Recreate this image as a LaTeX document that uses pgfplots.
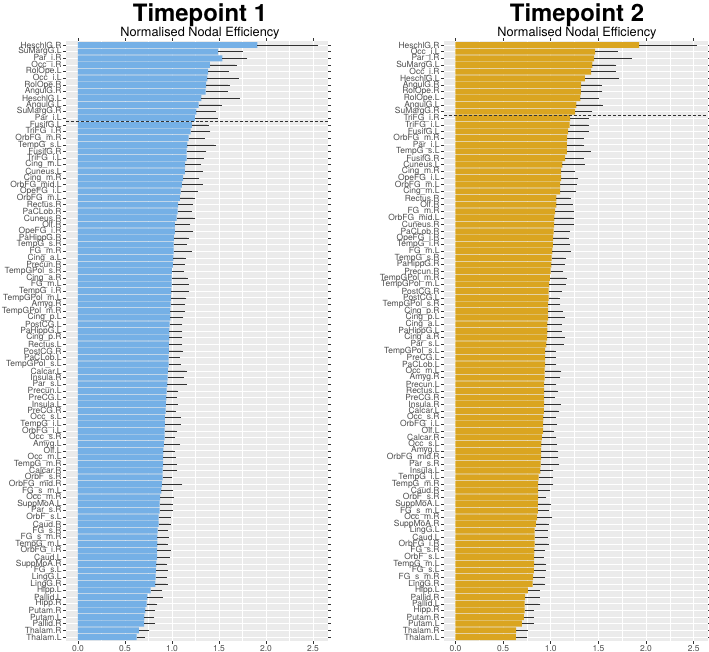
\documentclass[border=0pt]{standalone}
\usepackage{pgfplots}
\usepackage{pgfplotstable}
\pgfplotsset{compat=1.18}
\usepackage{fontspec}
\setmainfont{TeX Gyre Heros}
\definecolor{panelbg}{HTML}{EBEBEB}
\definecolor{ticktext}{HTML}{4D4D4D}
\definecolor{tickc}{HTML}{333333}
\definecolor{barblue}{RGB}{117,176,230}
\definecolor{bargold}{HTML}{DAA520}
\definecolor{errc}{HTML}{303030}

\pgfplotstableread{
idx name val err
1 HeschlG.R 1.908 0.626
2 SuMargG.L 1.491 0.240
3 Par\_i.R 1.537 0.244
4 Occ\_i.R 1.403 0.268
5 RolOpe.L 1.385 0.202
6 Occ\_i.L 1.378 0.311
7 RolOpe.R 1.364 0.230
8 AngulG.R 1.357 0.219
9 HeschlG.L 1.314 0.389
10 AngulG.L 1.283 0.226
11 SuMargG.R 1.261 0.184
12 Par\_i.L 1.247 0.219
13 FusifG.L 1.212 0.159
14 TriFG\_i.R 1.198 0.191
15 OrbFG\_m.R 1.177 0.152
16 TempG\_s.L 1.163 0.282
17 FusifG.R 1.155 0.191
18 TriFG\_i.L 1.155 0.163
19 Cing\_m.L 1.141 0.149
20 Cuneus.L 1.138 0.169
21 Cing\_m.R 1.120 0.152
22 OrbFG\_mid.L 1.106 0.201
23 OpeFG\_i.L 1.092 0.162
24 OrbFG\_m.L 1.085 0.138
25 Rectus.R 1.067 0.138
26 PaCLob.R 1.060 0.131
27 Cuneus.R 1.049 0.174
28 Olf.R 1.032 0.141
29 OpeFG\_i.R 1.032 0.176
30 PaHippG.R 1.021 0.138
31 TempG\_s.R 1.018 0.120
32 FG\_m.R 1.018 0.173
33 Cing\_a.L 1.014 0.110
34 Precun.R 1.011 0.106
35 TempGPol\_s.R 1.000 0.110
36 Cing\_a.R 0.996 0.152
37 FG\_m.L 0.996 0.167
38 TempG\_i.R 0.993 0.170
39 TempGPol\_m.L 0.989 0.145
40 Amyg.R 0.986 0.134
41 TempGPol\_m.R 0.982 0.138
42 Cing\_p.L 0.982 0.120
43 PostCG.L 0.975 0.117
44 PaHippG.L 0.972 0.120
45 Cing\_p.R 0.972 0.120
46 Rectus.L 0.968 0.124
47 PostCG.R 0.968 0.131
48 PaCLob.L 0.965 0.099
49 TempGPol\_s.L 0.965 0.106
50 Calcar.L 0.958 0.183
51 Insula.R 0.954 0.152
52 Par\_s.L 0.951 0.187
53 Precun.L 0.943 0.106
54 PreCG.L 0.940 0.092
55 Insula.L 0.936 0.106
56 PreCG.R 0.933 0.092
57 Occ\_s.L 0.926 0.145
58 TempG\_i.L 0.926 0.148
59 OrbFG\_i.L 0.922 0.113
60 Occ\_s.R 0.922 0.092
61 Amyg.L 0.915 0.152
62 Olf.L 0.908 0.099
63 Occ\_m.L 0.905 0.116
64 TempG\_m.R 0.905 0.127
65 Calcar.R 0.901 0.134
66 OrbF\_s.R 0.901 0.078
67 OrbFG\_mid.R 0.894 0.198
68 FG\_s\_m.L 0.887 0.106
69 Occ\_m.R 0.873 0.131
70 SuppMoA.L 0.869 0.120
71 Par\_s.R 0.869 0.120
72 OrbF\_s.L 0.859 0.109
73 Caud.R 0.859 0.109
74 FG\_s.R 0.848 0.092
75 FG\_s\_m.R 0.845 0.102
76 TempG\_m.L 0.845 0.091
77 OrbFG\_i.R 0.841 0.124
78 Caud.L 0.841 0.113
79 SuppMoA.R 0.834 0.095
80 FG\_s.L 0.830 0.103
81 LingG.L 0.827 0.099
82 LingG.R 0.823 0.113
83 Hipp.L 0.774 0.102
84 Pallid.L 0.739 0.141
85 Hipp.R 0.731 0.092
86 Putam.R 0.717 0.082
87 Putam.L 0.707 0.085
88 Pallid.R 0.703 0.099
89 Thalam.R 0.647 0.092
90 Thalam.L 0.625 0.071
}\tabA

\pgfplotstableread{
idx name val err
1 HeschlG.R 1.927 0.583
2 Occ\_i.L 1.465 0.220
3 Par\_i.R 1.455 0.374
4 SuMargG.L 1.437 0.231
5 Occ\_i.R 1.423 0.238
6 HeschlG.L 1.357 0.342
7 AngulG.R 1.318 0.199
8 RolOpe.R 1.315 0.206
9 RolOpe.L 1.311 0.175
10 AngulG.L 1.269 0.259
11 SuMargG.R 1.255 0.161
12 TriFG\_i.R 1.203 0.175
13 TriFG\_i.L 1.199 0.186
14 FusifG.L 1.182 0.196
15 OrbFG\_m.R 1.171 0.154
16 Par\_i.L 1.168 0.161
17 TempG\_s.L 1.168 0.234
18 FusifG.R 1.150 0.175
19 Cuneus.L 1.122 0.214
20 Cing\_m.R 1.108 0.130
21 OpeFG\_i.L 1.108 0.161
22 OrbFG\_m.L 1.098 0.154
23 Cing\_m.L 1.098 0.147
24 Rectus.R 1.059 0.130
25 Olf.R 1.059 0.151
26 FG\_m.R 1.045 0.175
27 OrbFG\_mid.L 1.038 0.186
28 Cuneus.R 1.035 0.185
29 PaCLob.R 1.031 0.147
30 OpeFG\_i.R 1.024 0.144
31 TempG\_i.R 1.021 0.161
32 FG\_m.L 1.017 0.172
33 TempG\_s.R 1.010 0.126
34 PaHippG.R 1.007 0.119
35 Precun.R 1.000 0.112
36 TempGPol\_m.R 0.990 0.157
37 TempGPol\_m.L 0.983 0.157
38 PostCG.R 0.979 0.115
39 PostCG.L 0.979 0.098
40 TempGPol\_s.R 0.972 0.108
41 Cing\_p.R 0.972 0.133
42 Cing\_p.L 0.972 0.154
43 Cing\_a.L 0.965 0.129
44 PaHippG.L 0.965 0.129
45 Cing\_a.R 0.962 0.164
46 Par\_s.L 0.955 0.164
47 TempGPol\_s.L 0.941 0.094
48 PreCG.L 0.941 0.094
49 PaCLob.L 0.941 0.097
50 Occ\_m.L 0.937 0.154
51 Amyg.R 0.937 0.143
52 Precun.L 0.930 0.108
53 Rectus.L 0.930 0.129
54 PreCG.R 0.930 0.091
55 Insula.R 0.930 0.154
56 Calcar.L 0.927 0.143
57 Occ\_s.R 0.923 0.108
58 OrbFG\_i.L 0.920 0.125
59 Olf.L 0.920 0.097
60 Calcar.R 0.906 0.132
61 Occ\_s.L 0.902 0.140
62 Amyg.L 0.899 0.160
63 OrbFG\_mid.R 0.899 0.160
64 Par\_s.R 0.895 0.175
65 Insula.L 0.892 0.115
66 TempG\_i.L 0.874 0.133
67 TempG\_m.R 0.867 0.140
68 Caud.R 0.867 0.109
69 OrbF\_s.R 0.867 0.067
70 SuppMoA.L 0.864 0.122
71 FG\_s\_m.L 0.864 0.101
72 Occ\_m.R 0.857 0.140
73 SuppMoA.R 0.843 0.115
74 LingG.L 0.832 0.116
75 Caud.L 0.832 0.116
76 OrbFG\_i.R 0.832 0.130
77 FG\_s.R 0.829 0.087
78 OrbF\_s.L 0.825 0.081
79 TempG\_m.L 0.825 0.109
80 FG\_s.L 0.822 0.105
81 FG\_s\_m.R 0.815 0.108
82 LingG.R 0.811 0.112
83 Hipp.L 0.759 0.105
84 Pallid.R 0.731 0.133
85 Pallid.L 0.727 0.144
86 Hipp.R 0.727 0.077
87 Putam.R 0.717 0.084
88 Putam.L 0.696 0.105
89 Thalam.R 0.636 0.102
90 Thalam.L 0.633 0.094
}\tabB

\pgfplotsset{
  panel/.style={
    scale only axis, height=600bp,
    y dir=reverse,
    ymin=0.4, ymax=90.6,
    ytick={1,...,90},
    xtick={0,0.5,1,1.5,2,2.5},
    xticklabels={0.0,0.5,1.0,1.5,2.0,2.5},
    minor x tick num=1,
    xmajorgrids, xminorgrids, ymajorgrids,
    major grid style={white, line width=0.6bp},
    minor grid style={white, line width=0.3bp},
    axis background/.style={fill=panelbg},
    axis line style={draw=none},
    tick align=outside,
    major tick length=2.75bp, minor tick length=0pt,
    tick style={tickc, line width=0.5bp},
    /pgf/number format/assume math mode=true,
    ticklabel style={font=\fontsize{8.5}{8.5}\selectfont, text=ticktext},
    yticklabel style={inner sep=0.5bp, xshift=-1bp},
    xticklabel style={inner sep=1bp, yshift=-0.5bp},
    clip=false,
  },
  barplot/.style={
    xbar, bar width=0.9, draw=none, fill=#1,
    error bars/.cd, x dir=plus, x explicit,
    error bar style={line width=0.5bp, color=errc},
    error mark options={mark size=1.9bp, line width=0.5bp, color=errc},
  },
}

\begin{document}
\begin{tikzpicture}
\useasboundingbox (0,0) rectangle (709bp,-652bp);
\begin{axis}[panel, at={(66bp,-641bp)}, anchor=south west, width=262bp,
  xmin=-0.127, xmax=2.66,
  yticklabels from table={\tabA}{name}]
  \addplot[barplot=barblue] table[x=val, y=idx, x error=err] {\tabA};
  \addplot[densely dashed, color=tickc, line width=0.5bp] coordinates {(-0.127,12.5) (2.66,12.5)};
\end{axis}
\begin{axis}[panel, at={(444bp,-641bp)}, anchor=south west, width=264bp,
  xmin=-0.12, xmax=2.65,
  yticklabels from table={\tabB}{name}]
  \addplot[barplot=bargold] table[x=val, y=idx, x error=err] {\tabB};
  \addplot[densely dashed, color=tickc, line width=0.5bp] coordinates {(-0.12,11.5) (2.65,11.5)};
\end{axis}
\node[anchor=base, font=\fontsize{24}{24}\selectfont\bfseries] at (200bp,-21bp) {Timepoint 1};
\node[anchor=base, font=\fontsize{12.8}{12.8}\selectfont] at (200bp,-36bp) {Normalised Nodal Efficiency};
\node[anchor=base, font=\fontsize{24}{24}\selectfont\bfseries] at (577bp,-21bp) {Timepoint 2};
\node[anchor=base, font=\fontsize{12.8}{12.8}\selectfont] at (577bp,-36bp) {Normalised Nodal Efficiency};
\end{tikzpicture}
\end{document}
